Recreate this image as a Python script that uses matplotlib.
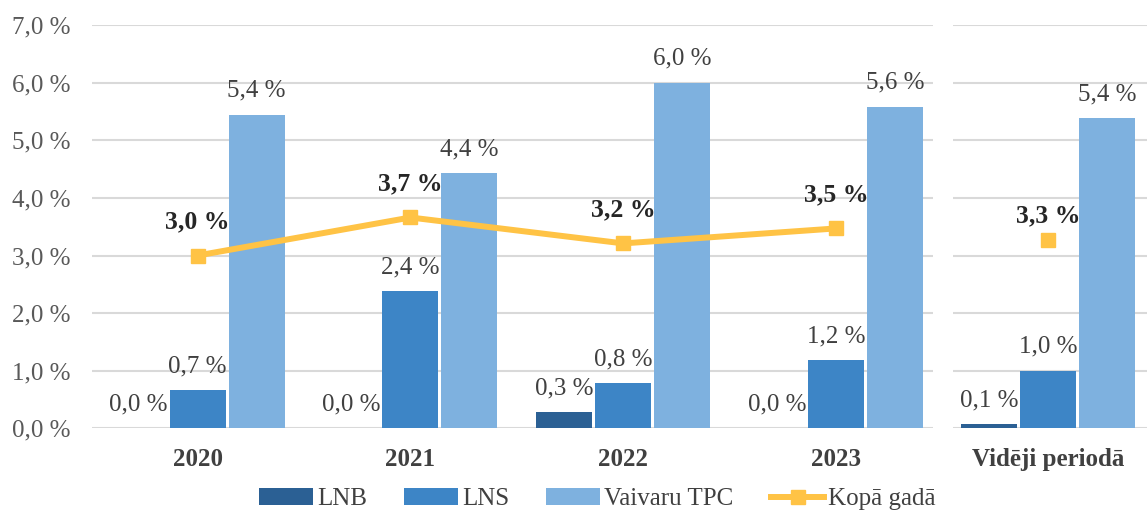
import numpy as np
import matplotlib.pyplot as plt

years = ["2020", "2021", "2022", "2023"]
avg_label = "Vidēji periodā"

lnb = [0.0, 0.0, 0.28, 0.0]
lns = [0.66, 2.38, 0.78, 1.18]
tpc = [5.44, 4.43, 6.0, 5.58]
total = [3.0, 3.66, 3.21, 3.47]

avg_lnb = 0.07
avg_lns = 1.0
avg_tpc = 5.38
avg_total = 3.27

series_names = ["LNB", "LNS", "Vaivaru TPC", "Kopā gadā"]
colors = ["#2b6094", "#3d85c6", "#7eb1df"]
line_color = "#ffc345"

plt.rcParams['font.family'] = ['Liberation Serif', 'DejaVu Serif']
FS = 18

W, H = 1147, 511
fig = plt.figure(figsize=(W / 100, H / 100), dpi=100)

# pixel layout measured from reference
unit = 212.8          # px per category
y0, y7 = 428.3, 25.1
bw = 56 / unit
pitch = 59 / unit


def frac(px_l, px_r):
    return px_l / W, (px_r - px_l) / W


bottom = (H - y0) / H
height = (y0 - y7) / H

l, w = frac(91.7, 932.7)
ax = fig.add_axes([l, bottom, w, height])
l2, w2 = frac(952.7, 1147)
ax2 = fig.add_axes([l2, bottom, w2, height])

label_kw = dict(textcoords="offset points", ha="center", va="baseline",
                fontsize=FS, color="#404040")
bold_kw = dict(textcoords="offset points", ha="center", va="baseline",
               fontsize=FS + 0.5, fontweight="bold", color="#262626")


def fmt(v):
    return f"{v:.1f}".replace(".", ",") + " %"


def style(a):
    a.set_ylim(0, 7)
    a.set_yticks(np.arange(0, 8, 1))
    a.grid(axis="y", color="#d9d9d9", linewidth=1.5)
    a.set_axisbelow(True)
    for s in a.spines.values():
        s.set_visible(False)
    a.tick_params(axis="both", length=0)
    a.tick_params(axis="x", pad=14, labelsize=FS, labelcolor="#404040")
    for t in a.get_xticklabels():
        t.set_fontweight("bold")


x = np.arange(len(years))
bars = []
for i, vals in enumerate([lnb, lns, tpc]):
    b = ax.bar(x + (i - 1) * pitch, vals, bw, color=colors[i], label=series_names[i])
    bars.append(b)
    for xi, v in zip(x + (i - 1) * pitch, vals):
        ax.annotate(fmt(v), (xi, v), xytext=(0, 13), **label_kw)

ln, = ax.plot(x, total, color=line_color, linewidth=4.3, marker="s",
              markersize=10, label=series_names[3], zorder=3)
for xi, v in zip(x, total):
    ax.annotate(fmt(v), (xi, v), xytext=(0, 19.5), **bold_kw)

ax.set_xlim(-(197.7 - 91.7) / unit, 3 + (932.7 - 836) / unit)
ax.set_xticks(x)
ax.set_xticklabels(years)
ax.set_yticks(np.arange(0, 8, 1))
ax.set_yticklabels([fmt(v) for v in range(8)])
ax.tick_params(axis="y", pad=15, labelsize=FS, labelcolor="#595959")
style(ax)

for i, v in enumerate([avg_lnb, avg_lns, avg_tpc]):
    xi = (i - 1) * pitch
    ax2.bar(xi, v, bw, color=colors[i])
    ax2.annotate(fmt(v), (xi, v), xytext=(0, 13), **label_kw)
ax2.plot([0], [avg_total], color=line_color, marker="s", markersize=10,
         linestyle="none", zorder=3)
ax2.annotate(fmt(avg_total), (0, avg_total), xytext=(0, 13), **bold_kw)
ax2.set_xlim(-(1048 - 952.7) / unit, (1147 - 1048) / unit)
ax2.set_xticks([0])
ax2.set_xticklabels([avg_label])
ax2.set_yticklabels([])
style(ax2)

fig.legend(handles=bars + [ln], labels=series_names, loc="center",
           bbox_to_anchor=(597.5 / W, 1 - 499 / H), ncol=4, frameon=False,
           fontsize=FS, handlelength=2.15, handletextpad=0.15,
           columnspacing=1.5, labelcolor="#404040")

fig.savefig("out.png", dpi=100)
